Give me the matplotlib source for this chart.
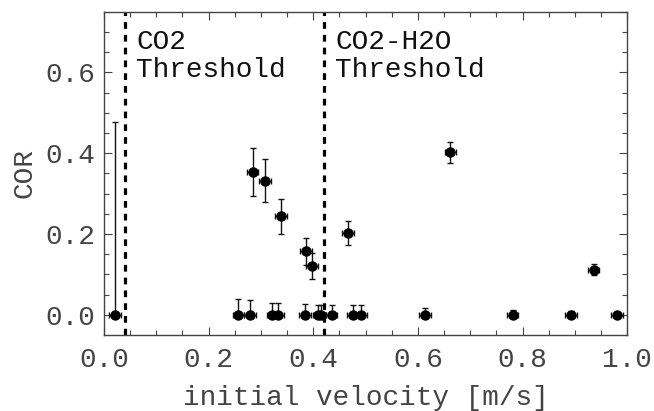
"""COR vs initial velocity plot"""
import matplotlib as mpl
mpl.use('Agg')  # no display
import matplotlib.pyplot as plt
from matplotlib.ticker import MultipleLocator

# points that bounced
bounce_vel = [0.284, 0.308, 0.338, 0.386, 0.398, 0.466, 0.662, 0.936]
bounce_cor = [0.354, 0.332, 0.244, 0.157, 0.120, 0.203, 0.402, 0.112]
bounce_err = [0.060, 0.053, 0.043, 0.034, 0.032, 0.030, 0.027, 0.013]

# points that stuck (COR = 0), only upper error
stick_vel = [0.021, 0.257, 0.279, 0.322, 0.333, 0.384, 0.410, 0.414,
             0.435, 0.476, 0.491, 0.614, 0.781, 0.893, 0.981]
stick_cor = [0.0] * len(stick_vel)
stick_err = [0.477, 0.039, 0.037, 0.030, 0.030, 0.026, 0.025, 0.025,
             0.025, 0.023, 0.023, 0.017, 0.012, 0.010, 0.008]

vel_err = 0.011
thresholds = [0.04, 0.42]
threshold_labels = ['CO2\nThreshold', 'CO2-H2O\nThreshold']

GRAY = '#444444'
plt.rcParams['font.family'] = ['Liberation Mono', 'DejaVu Sans Mono']

fig = plt.figure(figsize=(6.54, 4.11), dpi=100)
ax = fig.add_axes([0.159, 0.185, 0.800, 0.786])

ebar = dict(fmt='o', color='black', ecolor='#111111', markersize=6.5,
            elinewidth=1.0, capsize=2.2, capthick=1.0)
ax.errorbar(bounce_vel, bounce_cor, yerr=bounce_err, xerr=vel_err, **ebar)
ax.errorbar(stick_vel, stick_cor, yerr=[[0.0] * len(stick_err), stick_err],
            xerr=vel_err, **ebar)

for thr, text in zip(thresholds, threshold_labels):
    ax.axvline(thr, color='black', lw=2.3, linestyle=(0, (2.1, 1.9)))
    ax.text(thr + 0.022, 0.707, text, fontsize=20, va='top', ha='left',
            linespacing=1.1, color='#111111')

ax.set_xlim(0, 1.0)
ax.set_ylim(-0.05, 0.75)
ax.xaxis.set_major_locator(MultipleLocator(0.2))
ax.xaxis.set_minor_locator(MultipleLocator(0.05))
ax.yaxis.set_major_locator(MultipleLocator(0.2))
ax.yaxis.set_minor_locator(MultipleLocator(0.05))
ax.tick_params(which='both', direction='in', top=True, right=True,
               color=GRAY, labelcolor=GRAY, labelsize=20)
ax.tick_params(which='major', length=6, width=0.8)
ax.tick_params(which='minor', length=3.5, width=0.8)
ax.tick_params(axis='x', pad=9)
ax.tick_params(axis='y', pad=6)
for spine in ax.spines.values():
    spine.set_color(GRAY)
    spine.set_linewidth(1.0)

ax.set_xlabel('initial velocity [m/s]', fontsize=20, color=GRAY, labelpad=8)
ax.set_ylabel('COR', fontsize=20, color=GRAY, labelpad=6)

plt.savefig('out.png', dpi=100)
